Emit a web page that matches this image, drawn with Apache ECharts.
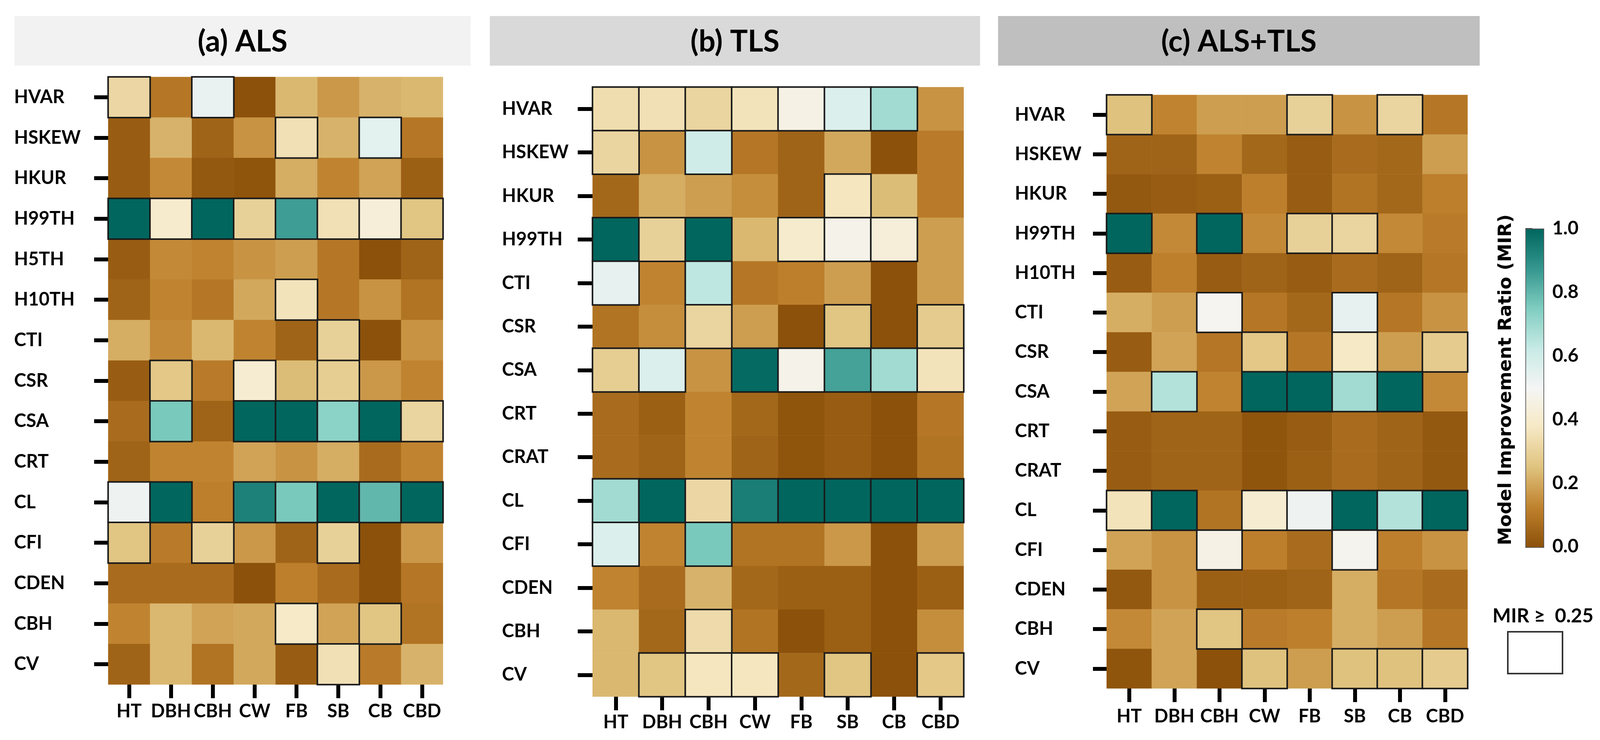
<!DOCTYPE html>
<html>
<head>
<meta charset="utf-8">
<script src="https://cdn.jsdelivr.net/npm/echarts@6/dist/echarts.min.js"></script>
<style>
html,body{margin:0;padding:0;background:#fff;}
#chart{width:4115px;height:1894px;}
</style>
</head>
<body>
<div id="chart"></div>
<script>
// ---------- data ----------
const columns = ['HT','DBH','CBH','CW','FB','SB','CB','CBD'];

const rowsALS = ['HVAR','HSKEW','HKUR','H99TH','H5TH','H10TH','CTI','CSR','CSA','CRT','CL','CFI','CDEN','CBH','CV'];
const rowsTLS = ['HVAR','HSKEW','HKUR','H99TH','CTI','CSR','CSA','CRT','CRAT','CL','CFI','CDEN','CBH','CV'];
const rowsALSTLS = ['HVAR','HSKEW','HKUR','H99TH','H10TH','CTI','CSR','CSA','CRT','CRAT','CL','CFI','CDEN','CBH','CV'];

// MIR values, one row per feature, columns in `columns` order
const valuesALS = [
  [0.32,0.10,0.53,0.00,0.23,0.17,0.22,0.23],
  [0.03,0.22,0.05,0.16,0.35,0.22,0.55,0.10],
  [0.03,0.14,0.02,0.01,0.21,0.13,0.19,0.04],
  [1.00,0.40,1.00,0.30,0.86,0.35,0.43,0.26],
  [0.03,0.14,0.13,0.16,0.18,0.10,0.00,0.05],
  [0.05,0.13,0.10,0.20,0.36,0.10,0.16,0.09],
  [0.21,0.14,0.23,0.13,0.05,0.30,0.00,0.16],
  [0.03,0.27,0.11,0.41,0.24,0.29,0.17,0.13],
  [0.07,0.76,0.05,1.00,1.00,0.73,1.00,0.31],
  [0.05,0.13,0.13,0.19,0.16,0.21,0.07,0.13],
  [0.52,1.00,0.12,0.93,0.76,1.00,0.80,1.00],
  [0.26,0.11,0.30,0.17,0.05,0.30,0.00,0.17],
  [0.07,0.07,0.07,0.00,0.12,0.07,0.00,0.10],
  [0.13,0.23,0.19,0.20,0.39,0.19,0.26,0.09],
  [0.05,0.23,0.09,0.20,0.03,0.35,0.11,0.22]
];
const valuesTLS = [
  [0.34,0.35,0.31,0.36,0.46,0.57,0.69,0.16],
  [0.31,0.16,0.60,0.10,0.05,0.20,0.00,0.11],
  [0.06,0.21,0.18,0.15,0.05,0.37,0.24,0.11],
  [1.00,0.30,1.00,0.23,0.40,0.47,0.43,0.18],
  [0.54,0.13,0.64,0.10,0.12,0.18,0.00,0.18],
  [0.09,0.15,0.31,0.18,0.00,0.26,0.00,0.28],
  [0.29,0.57,0.16,0.99,0.47,0.85,0.69,0.36],
  [0.07,0.04,0.13,0.06,0.01,0.03,0.00,0.10],
  [0.07,0.05,0.13,0.05,0.01,0.03,0.00,0.09],
  [0.69,1.00,0.32,0.94,1.00,1.00,1.00,1.00],
  [0.57,0.13,0.76,0.09,0.09,0.17,0.00,0.18],
  [0.13,0.07,0.22,0.06,0.04,0.04,0.00,0.04],
  [0.23,0.06,0.33,0.09,0.00,0.04,0.00,0.15],
  [0.23,0.26,0.37,0.37,0.06,0.26,0.00,0.27]
];
const valuesALSTLS = [
  [0.25,0.13,0.18,0.18,0.30,0.16,0.31,0.10],
  [0.05,0.05,0.13,0.06,0.03,0.07,0.06,0.18],
  [0.02,0.03,0.04,0.12,0.03,0.09,0.06,0.12],
  [1.00,0.14,1.00,0.14,0.30,0.31,0.14,0.11],
  [0.03,0.12,0.03,0.05,0.03,0.07,0.05,0.10],
  [0.21,0.18,0.49,0.10,0.06,0.54,0.10,0.16],
  [0.03,0.19,0.10,0.27,0.10,0.38,0.18,0.28],
  [0.19,0.66,0.13,1.00,1.00,0.69,1.00,0.14],
  [0.03,0.05,0.05,0.01,0.03,0.07,0.05,0.02],
  [0.03,0.05,0.05,0.01,0.04,0.07,0.05,0.02],
  [0.36,1.00,0.09,0.41,0.52,1.00,0.66,1.00],
  [0.19,0.16,0.46,0.12,0.07,0.48,0.12,0.16],
  [0.02,0.16,0.04,0.04,0.05,0.21,0.10,0.07],
  [0.14,0.19,0.26,0.11,0.12,0.21,0.18,0.10],
  [0.01,0.19,0.00,0.25,0.18,0.25,0.25,0.28]
];

const panelTitles = ['(a) ALS','(b) TLS','(c) ALS+TLS'];
const colorbarTicks = [0,0.2,0.4,0.6,0.8,1.0];
const threshold = 0.25;
const legendText = 'MIR \u2265  0.25';
const colorbarName = 'Model Improvement Ratio (MIR)';

// ---------- styling ----------
const BRBG = ['#8c510a','#bf812d','#dfc27d','#f6e8c3','#f5f5f5','#c7eae5','#80cdc1','#35978f','#01665e'];
const FONT = 'Lato, "Liberation Sans", sans-serif';

const panels = [
  {rows: rowsALS, vals: valuesALS, grid:{left:277, top:197, width:857, height:1555}, labelMargin:241, yTick:36, xMargin:45,
   box:{x:37, w:1168, fill:'#f2f2f2'}},
  {rows: rowsTLS, vals: valuesTLS, grid:{left:1517, top:223, width:950, height:1560}, labelMargin:232, yTick:38, xMargin:42,
   box:{x:1254, w:1255, fill:'#d9d9d9'}},
  {rows: rowsALSTLS, vals: valuesALSTLS, grid:{left:2833, top:243, width:924, height:1519}, labelMargin:235, yTick:35, xMargin:48,
   box:{x:2555, w:1233, fill:'#bfbfbf'}}
];

function buildData(vals) {
  const plain = [], boxed = [];
  vals.forEach((row, i) => row.forEach((v, j) => {
    if (v >= threshold) {
      boxed.push({value:[j, i, v], itemStyle:{borderColor:'#1a1a1a', borderWidth:4}});
    } else {
      plain.push({value:[j, i, v]});
    }
  }));
  return plain.concat(boxed);
}

const grids = [], xAxes = [], yAxes = [], series = [], graphics = [];
panels.forEach((p, k) => {
  grids.push(Object.assign({}, p.grid));
  xAxes.push({
    gridIndex:k, type:'category', data:columns,
    axisLine:{show:false},
    axisTick:{show:true, alignWithLabel:true, interval:0, length:35, lineStyle:{width:10, color:'#000'}},
    axisLabel:{interval:0, margin:p.xMargin, fontSize:47, fontWeight:'bold', fontFamily:FONT, color:'#000'},
    splitLine:{show:false}, splitArea:{show:false}
  });
  yAxes.push({
    gridIndex:k, type:'category', data:p.rows, inverse:true,
    axisLine:{show:false},
    axisTick:{show:true, alignWithLabel:true, interval:0, length:p.yTick, lineStyle:{width:10, color:'#000'}},
    axisLabel:{interval:0, align:'left', margin:p.labelMargin, fontSize:47, fontWeight:'bold', fontFamily:FONT, color:'#000'},
    splitLine:{show:false}, splitArea:{show:false}
  });
  series.push({
    type:'heatmap', xAxisIndex:k, yAxisIndex:k,
    data: buildData(p.vals),
    progressive:0, animation:false,
    emphasis:{disabled:true}
  });
  graphics.push({type:'rect', shape:{x:p.box.x, y:41, width:p.box.w, height:127}, style:{fill:p.box.fill}, silent:true});
  graphics.push({type:'text', x:p.box.x + p.box.w/2, y:107,
    style:{text:panelTitles[k], textAlign:'center', textVerticalAlign:'middle', fill:'#000',
      font:'bold 76px ' + FONT}, silent:true});
});

// colorbar axis grid
grids.push({left:3905, top:585, width:45, height:814});
xAxes.push({gridIndex:3, type:'value', show:false, min:0, max:1});
yAxes.push({
  gridIndex:3, type:'value', position:'right', min:0, max:1, interval:0.2,
  axisLine:{show:false},
  axisTick:{show:true, length:18, lineStyle:{width:3, color:'#222'}},
  axisLabel:{margin:24, fontSize:48, fontWeight:'bold', fontFamily:FONT, color:'#000',
    formatter: v => { const t = colorbarTicks.find(c => Math.abs(c - v) < 1e-6); return t === undefined ? '' : t.toFixed(1); }},
  splitLine:{show:false}
});
yAxes.push({
  gridIndex:3, type:'value', position:'left', min:0, max:1,
  axisLine:{show:false}, axisTick:{show:false}, axisLabel:{show:false}, splitLine:{show:false},
  name:colorbarName, nameLocation:'middle', nameRotate:90, nameGap:26,
  nameTextStyle:{fontSize:47, fontWeight:'bold', fontFamily:'"DejaVu Sans", sans-serif', color:'#000', padding:[0,0,0,40]}
});
series.push({type:'line', xAxisIndex:3, yAxisIndex:3, data:[], silent:true});

// legend for boxed cells
graphics.push({type:'text', x:3950, y:1577,
  style:{text:legendText, textAlign:'center', textVerticalAlign:'middle', fill:'#000', font:'bold 50px ' + FONT}, silent:true});
graphics.push({type:'rect', shape:{x:3860, y:1617, width:140, height:107},
  style:{fill:'#fff', stroke:'#333', lineWidth:4}, silent:true});

const chart = echarts.init(document.getElementById('chart'), null, {renderer:'canvas'});
chart.setOption({
  backgroundColor:'#fff',
  animation:false,
  grid:grids,
  xAxis:xAxes,
  yAxis:yAxes,
  visualMap:{
    type:'continuous', min:0, max:1, seriesIndex:[0,1,2],
    inRange:{color:BRBG},
    orient:'vertical', left:3905, top:585, itemWidth:45, itemHeight:814,
    padding:0, calculable:false, hoverLink:false, showLabel:false, text:null,
    borderColor:'#444', borderWidth:3
  },
  graphic:graphics,
  series:series
});
</script>
</body>
</html>
